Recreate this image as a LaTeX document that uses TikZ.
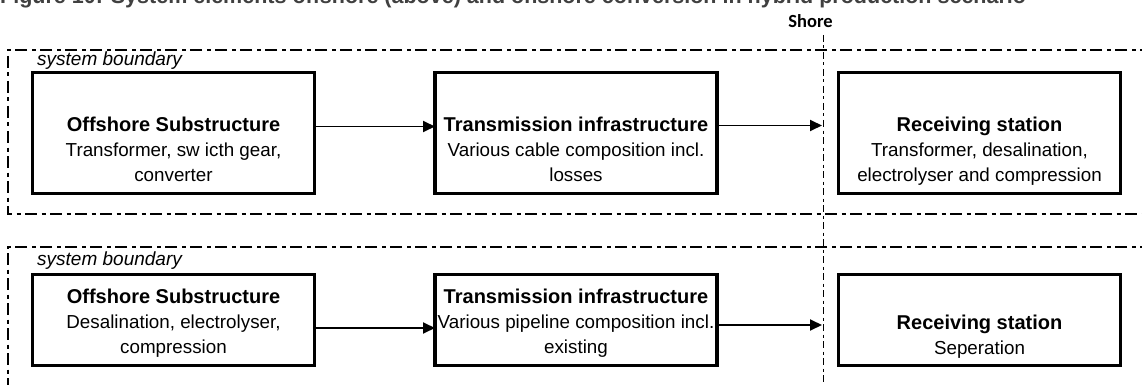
\documentclass[tikz,border=0pt]{standalone}
\usepackage{fontspec}
\setmainfont{Liberation Sans}
\newfontfamily\shorefont{Carlito}
\usetikzlibrary{arrows.meta}
\definecolor{titlegray}{HTML}{404040}
\newcommand\hd[1]{{\fontsize{20}{25}\selectfont\bfseries #1}}
\tikzset{
  box/.style={draw, line width=3.2pt, minimum width=282pt, inner sep=0pt, outer sep=0pt},
  rowone/.style={minimum height=121pt},
  rowtwo/.style={minimum height=91pt},
  boxtext/.style={align=center, anchor=base, inner sep=0pt, font=\fontsize{18.8}{25}\selectfont},
  boundary/.style={line width=1.5pt, dash pattern=on 12pt off 4.5pt on 4pt off 4.5pt},
  shoreline/.style={line width=1.7pt, dash pattern=on 7pt off 3.5pt on 3pt off 3.5pt},
  flow/.style={line width=1.8pt, -{Triangle[length=12pt,width=11pt]}},
  sblabel/.style={anchor=base west, inner sep=0pt, font=\fontsize{19}{23}\selectfont\itshape}
}
\begin{document}
\begin{tikzpicture}[x=1pt,y=-1pt]
\clip (0,0) rectangle (1142,385);
\fill[white] (0,0) rectangle (1142,385);

% title (cut off at the top)
\node[anchor=base west, inner sep=0pt, text=titlegray, font=\fontsize{21.5}{24}\selectfont\bfseries] (title) at (0,4)
  {Figure 10: System elements offshore (above) and onshore conversion in hybrid production scenario};

% shore
\node[anchor=base, inner sep=0pt, font=\fontsize{18.5}{22}\selectfont\shorefont\bfseries] (shore) at (810.5,27.5) {Shore};
\coordinate (shtop) at (823.5,35);
\coordinate (shbot) at (823.5,390);
\draw[shoreline] (shtop) -- (shbot);

% system boundaries
\draw[boundary] (1152,50) -- (8,50) -- (8,214) -- (1152,214);
\draw[boundary] (1152,247) -- (8,247) -- (8,395);
\node[sblabel] (sb1) at (37,66) {system boundary};
\node[sblabel] (sb2) at (37,265) {system boundary};

% row 1 boxes
\node[box,rowone] (b1) at (173.5,133) {};
\node[box,rowone] (b2) at (576,133) {};
\node[box,rowone] (b3) at (979.5,133) {};
\node[boxtext] (t1) at (173.5,181.5) {\hd{Offshore Substructure}\\Transformer, sw icth gear,\\converter};
\node[boxtext] (t2) at (576,181.5) {\hd{Transmission infrastructure}\\Various cable composition incl.\\losses};
\node[boxtext] (t3) at (979.5,181) {\hd{Receiving station}\\Transformer, desalination,\\electrolyser and compression};

% row 2 boxes
\node[box,rowtwo] (b4) at (173.5,320) {};
\node[box,rowtwo] (b5) at (576,320) {};
\node[box,rowtwo] (b6) at (979.5,320) {};
\node[boxtext] (t4) at (173.5,353) {\hd{Offshore Substructure}\\Desalination, electrolyser,\\compression};
\node[boxtext] (t5) at (576,353) {\hd{Transmission infrastructure}\\Various pipeline composition incl.\\existing};
\node[boxtext] (t6) at (979.5,354) {\hd{Receiving station}\\Seperation};

% connectors
\coordinate (s1) at (822,125.5);
\coordinate (s2) at (822,325);
\draw[flow] ([yshift=6.5pt]b1.east) -- ([yshift=6.5pt]b2.west);
\draw[flow] ([yshift=7.5pt]b2.east) -- (s1);
\draw[flow] ([yshift=-8pt]b4.east) -- ([yshift=-8pt]b5.west);
\draw[flow] ([yshift=-5pt]b5.east) -- (s2);
\end{tikzpicture}
\end{document}
